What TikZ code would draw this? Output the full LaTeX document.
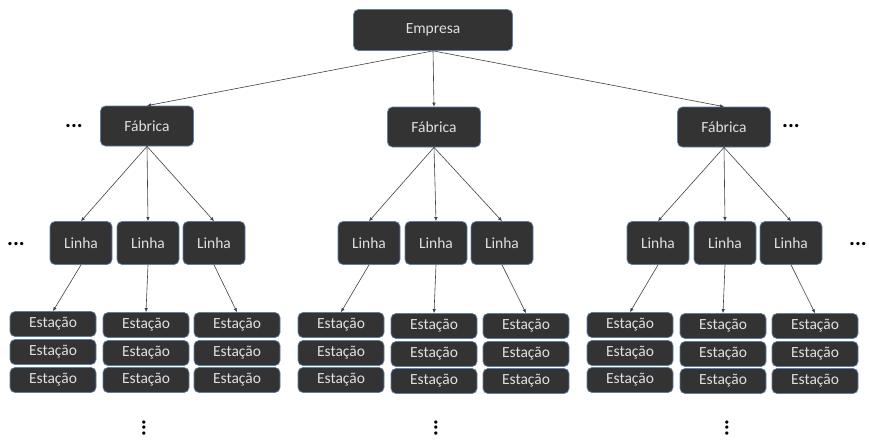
\documentclass[tikz,border=0pt]{standalone}
\usepackage{fontspec}
\setmainfont{Carlito}
\usepackage{xcolor}
\usepackage{tikz}
\usetikzlibrary{arrows.meta}

\definecolor{boxfill}{HTML}{333333}
\definecolor{boxline}{HTML}{5E7FA6}
\definecolor{boxtext}{HTML}{E0E0E0}

\tikzset{
  box/.style={draw=boxline, line width=0.7pt, fill=boxfill, text=boxtext,
    rounded corners=5pt, inner sep=0pt, font=\fontsize{15.5}{17}\selectfont},
  topbox/.style={box, minimum width=159pt, minimum height=41pt},
  fabbox/.style={box, minimum width=93pt, minimum height=40pt},
  linbox/.style={box, minimum width=62pt, minimum height=43pt},
  estbox/.style={box, minimum width=86pt, minimum height=25pt},
  link/.style={draw=black!75, line width=0.6pt, -{Latex[length=4pt,width=3.5pt]}},
  hdots/.style={font=\fontsize{22}{22}\selectfont\bfseries, inner sep=0pt}
}

\begin{document}
\begin{tikzpicture}[x=1pt,y=-1pt]
			\useasboundingbox (0,0) rectangle (869,440);

			\node[topbox] (emp) at (433,30) {Empresa};

			\node[fabbox] (fab1) at (147,126) {Fábrica};
			\node[fabbox] (fab2) at (434,127) {Fábrica};
			\node[fabbox] (fab3) at (724,127) {Fábrica};

			\node[linbox] (lin11) at (81,243) {Linha};
			\node[linbox] (lin12) at (148,243) {Linha};
			\node[linbox] (lin13) at (214,243) {Linha};
			\node[linbox] (lin21) at (369,243) {Linha};
			\node[linbox] (lin22) at (436,243) {Linha};
			\node[linbox] (lin23) at (502,243) {Linha};
			\node[linbox] (lin31) at (658,243) {Linha};
			\node[linbox] (lin32) at (725,243) {Linha};
			\node[linbox] (lin33) at (791,243) {Linha};

			% stations, first factory
			\node[estbox] (est11) at (53,324) {Estação};
			\node[estbox] at (53,352) {Estação};
			\node[estbox] at (53,380) {Estação};
			\node[estbox] (est12) at (146,325) {Estação};
			\node[estbox] at (146,353) {Estação};
			\node[estbox] at (146,380) {Estação};
			\node[estbox] (est13) at (237,325) {Estação};
			\node[estbox] at (237,353) {Estação};
			\node[estbox] at (237,380) {Estação};

			% stations, second factory
			\node[estbox] (est21) at (341,325) {Estação};
			\node[estbox] at (341,353) {Estação};
			\node[estbox] at (341,380) {Estação};
			\node[estbox] (est22) at (434,326) {Estação};
			\node[estbox] at (434,354) {Estação};
			\node[estbox] at (434,381) {Estação};
			\node[estbox] (est23) at (526,326) {Estação};
			\node[estbox] at (526,354) {Estação};
			\node[estbox] at (526,381) {Estação};

			% stations, third factory
			\node[estbox] (est31) at (630,325) {Estação};
			\node[estbox] at (630,353) {Estação};
			\node[estbox] at (630,380) {Estação};
			\node[estbox] (est32) at (723,326) {Estação};
			\node[estbox] at (723,354) {Estação};
			\node[estbox] at (723,381) {Estação};
			\node[estbox] (est33) at (815,326) {Estação};
			\node[estbox] at (815,354) {Estação};
			\node[estbox] at (815,381) {Estação};

			\draw[link] (emp.south) -- (fab1.north);
			\draw[link] (emp.south) -- (fab2.north);
			\draw[link] (emp.south) -- (fab3.north);

			\draw[link] (fab1.south) -- (lin11.north);
			\draw[link] (fab1.south) -- (lin12.north);
			\draw[link] (fab1.south) -- (lin13.north);
			\draw[link] (fab2.south) -- (lin21.north);
			\draw[link] (fab2.south) -- (lin22.north);
			\draw[link] (fab2.south) -- (lin23.north);
			\draw[link] (fab3.south) -- (lin31.north);
			\draw[link] (fab3.south) -- (lin32.north);
			\draw[link] (fab3.south) -- (lin33.north);

			\draw[link] (lin11.south) -- (est11.north);
			\draw[link] (lin12.south) -- (est12.north);
			\draw[link] (lin13.south) -- (est13.north);
			\draw[link] (lin21.south) -- (est21.north);
			\draw[link] (lin22.south) -- (est22.north);
			\draw[link] (lin23.south) -- (est23.north);
			\draw[link] (lin31.south) -- (est31.north);
			\draw[link] (lin32.south) -- (est32.north);
			\draw[link] (lin33.south) -- (est33.north);

			\node[hdots] (dotsfab1) at (74,126) {...};
			\node[hdots] (dotsfab3) at (791,126) {...};
			\node[hdots] (dotslin1) at (16,244) {...};
			\node[hdots] (dotslin3) at (858,244) {...};
			\node[hdots, rotate=90] (more1) at (144,428) {...};
			\node[hdots, rotate=90] (more2) at (436,428) {...};
			\node[hdots, rotate=90] (more3) at (727,428) {...};
		\end{tikzpicture}
\end{document}
